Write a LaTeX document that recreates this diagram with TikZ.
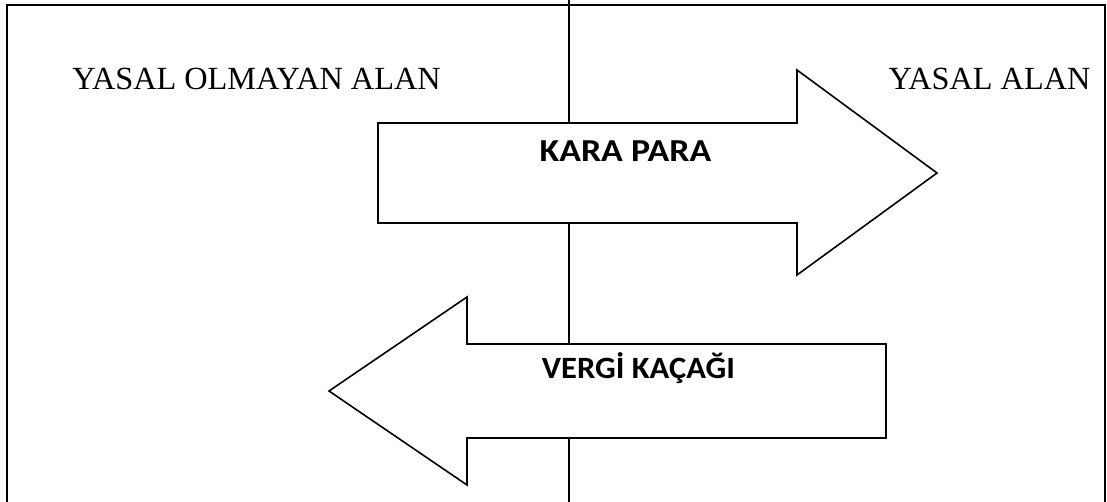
\documentclass[tikz,border=0pt]{standalone}
\usepackage{fontspec}
\setmainfont{Liberation Serif}
\newfontfamily\calib{Carlito}
\begin{document}
\begin{tikzpicture}[x=1pt,y=-1pt,
  frame/.style={line width=2.2pt},
  divider/.style={line width=1.6pt},
  bigarrow/.style={draw,fill=white,line width=1.6pt,line join=miter},
  area/.style={font=\fontsize{32.3}{38}\selectfont,inner sep=0pt,anchor=base},
  arrowlabel/.style={font=\calib\bfseries,inner sep=0pt,anchor=base}]
\useasboundingbox (0,0) rectangle (1107,502);
\draw[frame] (7,510) -- (7,5) -- (1105,5) -- (1105,510);
\coordinate (dtop) at (569,0);
\coordinate (dbot) at (569,502);
\draw[divider] (dtop) -- (dbot);
\draw[bigarrow] (378,123) -- (797,123) -- (797,70) -- (937,173) -- (797,275) -- (797,223) -- (378,223) -- cycle;
\draw[bigarrow] (886,344) -- (467,344) -- (467,297) -- (329,391) -- (467,485) -- (467,438) -- (886,438) -- cycle;
\node[area] (illegal) at (256.5,90) {YASAL OLMAYAN ALAN};
\node[area] (legal) at (989.5,90) {YASAL ALAN};
\node[arrowlabel] (black) at (625.5,162) {\fontsize{32}{36}\selectfont\scalebox{1.12}[1]{KARA PARA}};
\node[arrowlabel] (tax) at (638.5,378) {\fontsize{31}{36}\selectfont\scalebox{1.05}[1]{VERGİ KAÇAĞI}};
\end{tikzpicture}
\end{document}
